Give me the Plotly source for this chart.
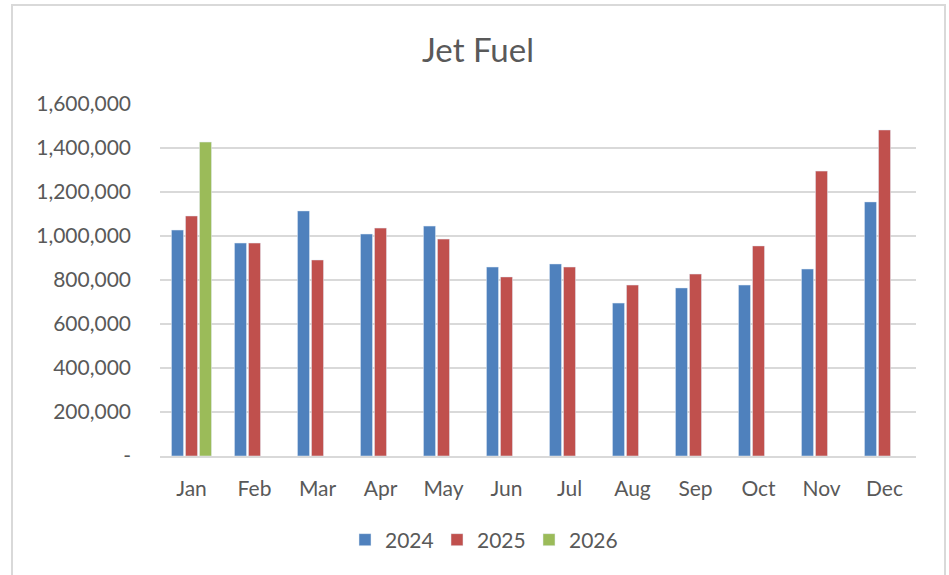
import plotly.graph_objects as go

months = ["Jan", "Feb", "Mar", "Apr", "May", "Jun", "Jul", "Aug", "Sep", "Oct", "Nov", "Dec"]
y2024 = [1027000, 968000, 1114000, 1009000, 1045000, 859000, 873000, 695000, 764000, 777000, 850000, 1155000]
y2025 = [1091000, 968000, 891000, 1036000, 986000, 814000, 859000, 777000, 827000, 955000, 1295000, 1482000]
y2026 = [1427000, None, None, None, None, None, None, None, None, None, None, None]
tick_vals = [0, 200000, 400000, 600000, 800000, 1000000, 1200000, 1400000, 1600000]
tick_text = ["-", "200,000", "400,000", "600,000", "800,000", "1,000,000", "1,200,000", "1,400,000", "1,600,000"]

W, H = 949, 575
L, R, T, B = 160, 33, 104, 119
FONT = "Lato, 'Open Sans', sans-serif"
GRAY = "#595959"

fig = go.Figure()
fig.add_bar(name="2024", x=months, y=y2024, marker_color="#4f81bd")
fig.add_bar(name="2025", x=months, y=y2025, marker_color="#c0504d")
fig.add_bar(name="2026", x=months, y=y2026, marker_color="#9bbb59")

pw, ph = W - L - R, H - T - B
def px(x):  # screen x -> paper
    return (x - L) / pw
def py(y):  # screen y -> paper
    return (H - B - y) / ph

fig.update_layout(
    width=W, height=H,
    margin=dict(l=L, r=R, t=T, b=B, pad=0),
    paper_bgcolor="white", plot_bgcolor="white",
    barmode="group", bargap=0.333, bargroupgap=0.14,
    font=dict(family=FONT, color=GRAY, size=18),
    title=dict(text="Jet Fuel", x=px(478), xanchor="center", xref="paper",
               y=1 - 50 / H, yanchor="middle",
               font=dict(size=33, color=GRAY, family=FONT)),
    legend=dict(orientation="h", x=px(483), xanchor="center", y=py(540), yanchor="middle",
                font=dict(size=21, color=GRAY), itemwidth=30, traceorder="normal",
                entrywidth=47, entrywidthmode="pixels"),
    xaxis=dict(showgrid=False, showline=True, linecolor="#d9d9d9", linewidth=2,
               ticks="", tickfont=dict(size=21, color=GRAY), ticklabelstandoff=13),
    yaxis=dict(range=[0, 1600000], tickvals=tick_vals, ticktext=tick_text,
               showgrid=True, gridcolor="#d9d9d9", gridwidth=2, zeroline=False,
               ticks="", tickfont=dict(size=21, color=GRAY), ticklabelstandoff=28),
    shapes=[dict(type="rect", xref="paper", yref="paper",
                 x0=px(12), x1=px(945), y0=py(585), y1=py(5),
                 line=dict(color="#d9d9d9", width=2), fillcolor="rgba(0,0,0,0)", layer="below")],
)

fig.write_html("out.html", config={"displayModeBar": False},
               post_script="document.body.style.margin='0';document.body.style.overflow='hidden';")
